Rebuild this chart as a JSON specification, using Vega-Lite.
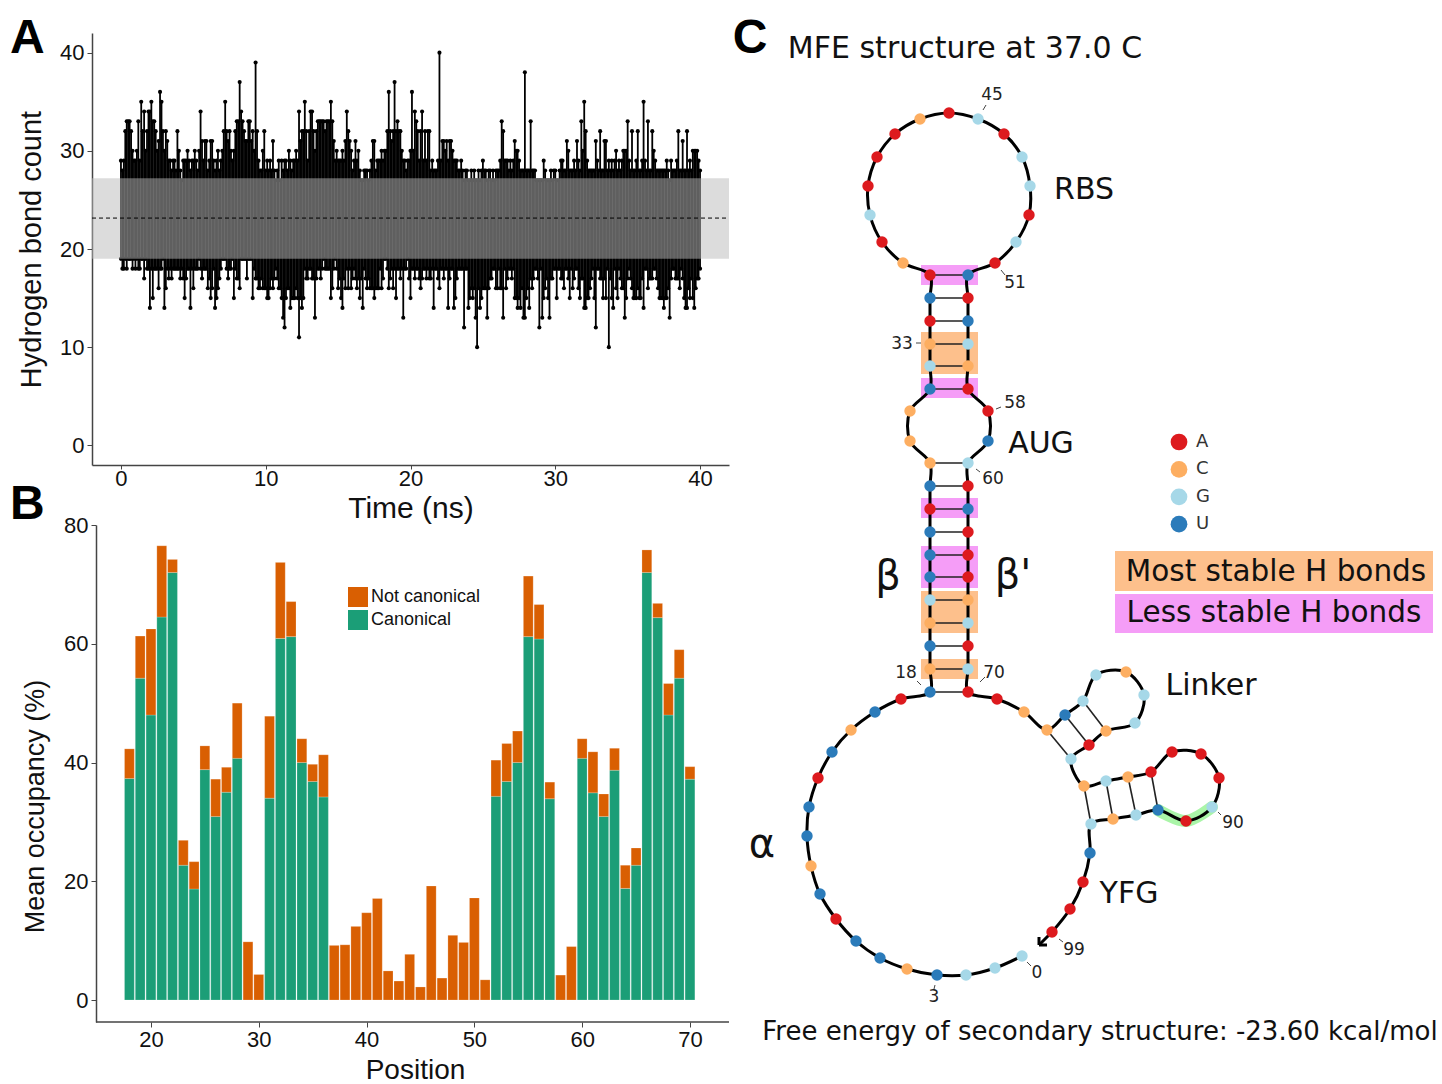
{"$schema":"https://vega.github.io/schema/vega-lite/v6.json","background":"white","padding":{"left":10,"top":14,"right":0,"bottom":0},"spacing":2,"resolve":{"scale":{"color":"independent"},"legend":{"color":"independent"}},"config":{"view":{"stroke":null},"font":"Liberation Sans"},
"datasets":{
"hbonds":[
{"t":0,"hi":29,"lo":19},{"t":0.1,"hi":28,"lo":18},{"t":0.2,"hi":29,"lo":18},{"t":0.3,"hi":32,"lo":19},{"t":0.4,"hi":33,"lo":18},{"t":0.5,"hi":33,"lo":19},{"t":0.6,"hi":33,"lo":19},{"t":0.7,"hi":32,"lo":19},{"t":0.8,"hi":30,"lo":18},{"t":0.9,"hi":29,"lo":19},
{"t":1,"hi":29,"lo":18},{"t":1.1,"hi":30,"lo":19},{"t":1.2,"hi":33,"lo":18},{"t":1.3,"hi":29,"lo":18},{"t":1.4,"hi":35,"lo":19},{"t":1.5,"hi":32,"lo":19},{"t":1.6,"hi":34,"lo":17},{"t":1.7,"hi":30,"lo":19},{"t":1.8,"hi":32,"lo":18},{"t":1.9,"hi":34,"lo":18},
{"t":2,"hi":34,"lo":14},{"t":2.1,"hi":35,"lo":18},{"t":2.2,"hi":33,"lo":15},{"t":2.3,"hi":33,"lo":18},{"t":2.4,"hi":32,"lo":18},{"t":2.5,"hi":30,"lo":18},{"t":2.6,"hi":31,"lo":16},{"t":2.7,"hi":36,"lo":18},{"t":2.8,"hi":35,"lo":18},{"t":2.9,"hi":32,"lo":19},
{"t":3,"hi":30,"lo":14},{"t":3.1,"hi":32,"lo":16},{"t":3.2,"hi":31,"lo":18},{"t":3.3,"hi":29,"lo":17},{"t":3.4,"hi":29,"lo":18},{"t":3.5,"hi":28,"lo":17},{"t":3.6,"hi":29,"lo":18},{"t":3.7,"hi":29,"lo":18},{"t":3.8,"hi":28,"lo":18},{"t":3.9,"hi":32,"lo":18},
{"t":4,"hi":30,"lo":18},{"t":4.1,"hi":28,"lo":17},{"t":4.2,"hi":27,"lo":18},{"t":4.3,"hi":29,"lo":17},{"t":4.4,"hi":29,"lo":15},{"t":4.5,"hi":29,"lo":17},{"t":4.6,"hi":30,"lo":18},{"t":4.7,"hi":29,"lo":18},{"t":4.8,"hi":28,"lo":14},{"t":4.9,"hi":29,"lo":18},
{"t":5,"hi":29,"lo":16},{"t":5.1,"hi":30,"lo":18},{"t":5.2,"hi":29,"lo":18},{"t":5.3,"hi":28,"lo":18},{"t":5.4,"hi":30,"lo":19},{"t":5.5,"hi":34,"lo":18},{"t":5.6,"hi":31,"lo":17},{"t":5.7,"hi":29,"lo":18},{"t":5.8,"hi":31,"lo":18},{"t":5.9,"hi":31,"lo":18},
{"t":6,"hi":28,"lo":16},{"t":6.1,"hi":29,"lo":17},{"t":6.2,"hi":31,"lo":15},{"t":6.3,"hi":31,"lo":16},{"t":6.4,"hi":29,"lo":18},{"t":6.5,"hi":28,"lo":14},{"t":6.6,"hi":29,"lo":15},{"t":6.7,"hi":30,"lo":16},{"t":6.8,"hi":28,"lo":17},{"t":6.9,"hi":29,"lo":18},
{"t":7,"hi":30,"lo":19},{"t":7.1,"hi":32,"lo":19},{"t":7.2,"hi":35,"lo":19},{"t":7.3,"hi":32,"lo":18},{"t":7.4,"hi":31,"lo":17},{"t":7.5,"hi":32,"lo":18},{"t":7.6,"hi":30,"lo":18},{"t":7.7,"hi":29,"lo":19},{"t":7.8,"hi":30,"lo":15},{"t":7.9,"hi":32,"lo":18},
{"t":8,"hi":33,"lo":17},{"t":8.1,"hi":33,"lo":17},{"t":8.2,"hi":37,"lo":16},{"t":8.3,"hi":34,"lo":19},{"t":8.4,"hi":33,"lo":19},{"t":8.5,"hi":32,"lo":19},{"t":8.6,"hi":31,"lo":19},{"t":8.7,"hi":31,"lo":17},{"t":8.8,"hi":33,"lo":19},{"t":8.9,"hi":33,"lo":19},
{"t":9,"hi":31,"lo":19},{"t":9.1,"hi":32,"lo":15},{"t":9.2,"hi":30,"lo":18},{"t":9.3,"hi":39,"lo":17},{"t":9.4,"hi":32,"lo":17},{"t":9.5,"hi":29,"lo":16},{"t":9.6,"hi":28,"lo":16},{"t":9.7,"hi":28,"lo":17},{"t":9.8,"hi":30,"lo":16},{"t":9.9,"hi":32,"lo":16},
{"t":10,"hi":28,"lo":16},{"t":10.1,"hi":29,"lo":15},{"t":10.2,"hi":28,"lo":15},{"t":10.3,"hi":29,"lo":16},{"t":10.4,"hi":28,"lo":17},{"t":10.5,"hi":31,"lo":16},{"t":10.6,"hi":28,"lo":17},{"t":10.7,"hi":27,"lo":18},{"t":10.8,"hi":28,"lo":17},{"t":10.9,"hi":29,"lo":16},
{"t":11,"hi":27,"lo":16},{"t":11.1,"hi":29,"lo":15},{"t":11.2,"hi":28,"lo":13},{"t":11.3,"hi":29,"lo":12},{"t":11.4,"hi":29,"lo":15},{"t":11.5,"hi":28,"lo":16},{"t":11.6,"hi":30,"lo":16},{"t":11.7,"hi":29,"lo":14},{"t":11.8,"hi":28,"lo":15},{"t":11.9,"hi":29,"lo":15},
{"t":12,"hi":29,"lo":15},{"t":12.1,"hi":30,"lo":16},{"t":12.2,"hi":29,"lo":15},{"t":12.3,"hi":34,"lo":11},{"t":12.4,"hi":31,"lo":15},{"t":12.5,"hi":32,"lo":14},{"t":12.6,"hi":32,"lo":15},{"t":12.7,"hi":35,"lo":18},{"t":12.8,"hi":32,"lo":17},{"t":12.9,"hi":29,"lo":17},
{"t":13,"hi":32,"lo":18},{"t":13.1,"hi":34,"lo":18},{"t":13.2,"hi":34,"lo":17},{"t":13.3,"hi":32,"lo":17},{"t":13.4,"hi":30,"lo":13},{"t":13.5,"hi":32,"lo":17},{"t":13.6,"hi":33,"lo":18},{"t":13.7,"hi":33,"lo":18},{"t":13.8,"hi":33,"lo":17},{"t":13.9,"hi":33,"lo":18},
{"t":14,"hi":33,"lo":19},{"t":14.1,"hi":32,"lo":18},{"t":14.2,"hi":33,"lo":18},{"t":14.3,"hi":33,"lo":18},{"t":14.4,"hi":33,"lo":18},{"t":14.5,"hi":35,"lo":15},{"t":14.6,"hi":33,"lo":16},{"t":14.7,"hi":31,"lo":18},{"t":14.8,"hi":29,"lo":19},{"t":14.9,"hi":30,"lo":18},
{"t":15,"hi":29,"lo":16},{"t":15.1,"hi":29,"lo":17},{"t":15.2,"hi":29,"lo":15},{"t":15.3,"hi":30,"lo":14},{"t":15.4,"hi":29,"lo":17},{"t":15.5,"hi":31,"lo":16},{"t":15.6,"hi":34,"lo":18},{"t":15.7,"hi":32,"lo":16},{"t":15.8,"hi":31,"lo":18},{"t":15.9,"hi":30,"lo":16},
{"t":16,"hi":28,"lo":17},{"t":16.1,"hi":29,"lo":18},{"t":16.2,"hi":31,"lo":17},{"t":16.3,"hi":29,"lo":16},{"t":16.4,"hi":30,"lo":17},{"t":16.5,"hi":28,"lo":15},{"t":16.6,"hi":27,"lo":17},{"t":16.7,"hi":27,"lo":14},{"t":16.8,"hi":28,"lo":18},{"t":16.9,"hi":28,"lo":17},
{"t":17,"hi":28,"lo":16},{"t":17.1,"hi":27,"lo":17},{"t":17.2,"hi":28,"lo":16},{"t":17.3,"hi":29,"lo":16},{"t":17.4,"hi":31,"lo":16},{"t":17.5,"hi":31,"lo":15},{"t":17.6,"hi":28,"lo":16},{"t":17.7,"hi":29,"lo":16},{"t":17.8,"hi":29,"lo":16},{"t":17.9,"hi":29,"lo":18},
{"t":18,"hi":30,"lo":16},{"t":18.1,"hi":29,"lo":17},{"t":18.2,"hi":30,"lo":19},{"t":18.3,"hi":30,"lo":19},{"t":18.4,"hi":32,"lo":18},{"t":18.5,"hi":36,"lo":16},{"t":18.6,"hi":32,"lo":17},{"t":18.7,"hi":31,"lo":18},{"t":18.8,"hi":32,"lo":16},{"t":18.9,"hi":37,"lo":18},
{"t":19,"hi":32,"lo":15},{"t":19.1,"hi":33,"lo":18},{"t":19.2,"hi":32,"lo":18},{"t":19.3,"hi":32,"lo":17},{"t":19.4,"hi":30,"lo":18},{"t":19.5,"hi":29,"lo":13},{"t":19.6,"hi":29,"lo":18},{"t":19.7,"hi":28,"lo":18},{"t":19.8,"hi":29,"lo":19},{"t":19.9,"hi":29,"lo":17},
{"t":20,"hi":30,"lo":15},{"t":20.1,"hi":36,"lo":18},{"t":20.2,"hi":30,"lo":18},{"t":20.3,"hi":34,"lo":17},{"t":20.4,"hi":33,"lo":18},{"t":20.5,"hi":32,"lo":18},{"t":20.6,"hi":29,"lo":17},{"t":20.7,"hi":32,"lo":16},{"t":20.8,"hi":34,"lo":17},{"t":20.9,"hi":29,"lo":18},
{"t":21,"hi":32,"lo":18},{"t":21.1,"hi":29,"lo":17},{"t":21.2,"hi":32,"lo":18},{"t":21.3,"hi":32,"lo":17},{"t":21.4,"hi":28,"lo":17},{"t":21.5,"hi":29,"lo":18},{"t":21.6,"hi":28,"lo":14},{"t":21.7,"hi":28,"lo":18},{"t":21.8,"hi":28,"lo":18},{"t":21.9,"hi":29,"lo":17},
{"t":22,"hi":40,"lo":16},{"t":22.1,"hi":29,"lo":18},{"t":22.2,"hi":31,"lo":18},{"t":22.3,"hi":31,"lo":17},{"t":22.4,"hi":30,"lo":18},{"t":22.5,"hi":31,"lo":18},{"t":22.6,"hi":29,"lo":14},{"t":22.7,"hi":31,"lo":17},{"t":22.8,"hi":31,"lo":18},{"t":22.9,"hi":30,"lo":18},
{"t":23,"hi":29,"lo":14},{"t":23.1,"hi":29,"lo":15},{"t":23.2,"hi":29,"lo":17},{"t":23.3,"hi":28,"lo":18},{"t":23.4,"hi":28,"lo":18},{"t":23.5,"hi":29,"lo":18},{"t":23.6,"hi":28,"lo":18},{"t":23.7,"hi":27,"lo":12},{"t":23.8,"hi":28,"lo":18},{"t":23.9,"hi":28,"lo":18},
{"t":24,"hi":27,"lo":14},{"t":24.1,"hi":27,"lo":15},{"t":24.2,"hi":28,"lo":16},{"t":24.3,"hi":27,"lo":15},{"t":24.4,"hi":28,"lo":16},{"t":24.5,"hi":27,"lo":13},{"t":24.6,"hi":27,"lo":10},{"t":24.7,"hi":28,"lo":16},{"t":24.8,"hi":27,"lo":14},{"t":24.9,"hi":28,"lo":15},
{"t":25,"hi":29,"lo":16},{"t":25.1,"hi":28,"lo":16},{"t":25.2,"hi":28,"lo":16},{"t":25.3,"hi":27,"lo":13},{"t":25.4,"hi":28,"lo":16},{"t":25.5,"hi":28,"lo":17},{"t":25.6,"hi":27,"lo":17},{"t":25.7,"hi":28,"lo":18},{"t":25.8,"hi":27,"lo":18},{"t":25.9,"hi":28,"lo":16},
{"t":26,"hi":28,"lo":16},{"t":26.1,"hi":28,"lo":18},{"t":26.2,"hi":29,"lo":16},{"t":26.3,"hi":33,"lo":16},{"t":26.4,"hi":32,"lo":13},{"t":26.5,"hi":29,"lo":18},{"t":26.6,"hi":29,"lo":16},{"t":26.7,"hi":29,"lo":17},{"t":26.8,"hi":28,"lo":18},{"t":26.9,"hi":29,"lo":18},
{"t":27,"hi":28,"lo":17},{"t":27.1,"hi":29,"lo":18},{"t":27.2,"hi":31,"lo":15},{"t":27.3,"hi":30,"lo":15},{"t":27.4,"hi":30,"lo":14},{"t":27.5,"hi":29,"lo":15},{"t":27.6,"hi":28,"lo":14},{"t":27.7,"hi":28,"lo":16},{"t":27.8,"hi":28,"lo":13},{"t":27.9,"hi":38,"lo":13},
{"t":28,"hi":28,"lo":15},{"t":28.1,"hi":28,"lo":16},{"t":28.2,"hi":28,"lo":14},{"t":28.3,"hi":33,"lo":17},{"t":28.4,"hi":28,"lo":16},{"t":28.5,"hi":28,"lo":17},{"t":28.6,"hi":28,"lo":18},{"t":28.7,"hi":27,"lo":18},{"t":28.8,"hi":27,"lo":17},{"t":28.9,"hi":27,"lo":12},
{"t":29,"hi":27,"lo":18},{"t":29.1,"hi":27,"lo":13},{"t":29.2,"hi":29,"lo":15},{"t":29.3,"hi":28,"lo":16},{"t":29.4,"hi":27,"lo":17},{"t":29.5,"hi":27,"lo":15},{"t":29.6,"hi":27,"lo":13},{"t":29.7,"hi":28,"lo":17},{"t":29.8,"hi":27,"lo":17},{"t":29.9,"hi":28,"lo":18},
{"t":30,"hi":28,"lo":18},{"t":30.1,"hi":27,"lo":15},{"t":30.2,"hi":27,"lo":18},{"t":30.3,"hi":28,"lo":18},{"t":30.4,"hi":29,"lo":17},{"t":30.5,"hi":29,"lo":17},{"t":30.6,"hi":28,"lo":16},{"t":30.7,"hi":28,"lo":18},{"t":30.8,"hi":31,"lo":18},{"t":30.9,"hi":30,"lo":17},
{"t":31,"hi":28,"lo":15},{"t":31.1,"hi":28,"lo":18},{"t":31.2,"hi":28,"lo":16},{"t":31.3,"hi":29,"lo":17},{"t":31.4,"hi":28,"lo":18},{"t":31.5,"hi":31,"lo":18},{"t":31.6,"hi":29,"lo":16},{"t":31.7,"hi":28,"lo":15},{"t":31.8,"hi":33,"lo":17},{"t":31.9,"hi":30,"lo":17},
{"t":32,"hi":35,"lo":14},{"t":32.1,"hi":32,"lo":14},{"t":32.2,"hi":29,"lo":15},{"t":32.3,"hi":28,"lo":15},{"t":32.4,"hi":28,"lo":16},{"t":32.5,"hi":28,"lo":17},{"t":32.6,"hi":28,"lo":18},{"t":32.7,"hi":28,"lo":15},{"t":32.8,"hi":31,"lo":12},{"t":32.9,"hi":29,"lo":18},
{"t":33,"hi":28,"lo":18},{"t":33.1,"hi":32,"lo":17},{"t":33.2,"hi":28,"lo":17},{"t":33.3,"hi":28,"lo":15},{"t":33.4,"hi":31,"lo":17},{"t":33.5,"hi":31,"lo":15},{"t":33.6,"hi":28,"lo":18},{"t":33.7,"hi":29,"lo":10},{"t":33.8,"hi":28,"lo":17},{"t":33.9,"hi":29,"lo":15},
{"t":34,"hi":28,"lo":14},{"t":34.1,"hi":29,"lo":18},{"t":34.2,"hi":30,"lo":16},{"t":34.3,"hi":28,"lo":15},{"t":34.4,"hi":29,"lo":18},{"t":34.5,"hi":28,"lo":17},{"t":34.6,"hi":29,"lo":16},{"t":34.7,"hi":30,"lo":16},{"t":34.8,"hi":30,"lo":13},{"t":34.9,"hi":30,"lo":15},
{"t":35,"hi":33,"lo":17},{"t":35.1,"hi":29,"lo":18},{"t":35.2,"hi":28,"lo":17},{"t":35.3,"hi":32,"lo":16},{"t":35.4,"hi":28,"lo":15},{"t":35.5,"hi":28,"lo":15},{"t":35.6,"hi":29,"lo":15},{"t":35.7,"hi":32,"lo":16},{"t":35.8,"hi":28,"lo":15},{"t":35.9,"hi":28,"lo":15},
{"t":36,"hi":29,"lo":17},{"t":36.1,"hi":35,"lo":14},{"t":36.2,"hi":29,"lo":18},{"t":36.3,"hi":28,"lo":18},{"t":36.4,"hi":33,"lo":16},{"t":36.5,"hi":28,"lo":17},{"t":36.6,"hi":28,"lo":17},{"t":36.7,"hi":32,"lo":17},{"t":36.8,"hi":30,"lo":18},{"t":36.9,"hi":29,"lo":18},
{"t":37,"hi":28,"lo":17},{"t":37.1,"hi":28,"lo":16},{"t":37.2,"hi":28,"lo":15},{"t":37.3,"hi":28,"lo":15},{"t":37.4,"hi":28,"lo":15},{"t":37.5,"hi":28,"lo":14},{"t":37.6,"hi":28,"lo":15},{"t":37.7,"hi":29,"lo":15},{"t":37.8,"hi":28,"lo":16},{"t":37.9,"hi":27,"lo":13},
{"t":38,"hi":29,"lo":17},{"t":38.1,"hi":28,"lo":18},{"t":38.2,"hi":28,"lo":18},{"t":38.3,"hi":28,"lo":17},{"t":38.4,"hi":29,"lo":17},{"t":38.5,"hi":32,"lo":17},{"t":38.6,"hi":28,"lo":16},{"t":38.7,"hi":28,"lo":18},{"t":38.8,"hi":31,"lo":17},{"t":38.9,"hi":28,"lo":15},
{"t":39,"hi":28,"lo":14},{"t":39.1,"hi":32,"lo":14},{"t":39.2,"hi":28,"lo":16},{"t":39.3,"hi":29,"lo":15},{"t":39.4,"hi":28,"lo":17},{"t":39.5,"hi":30,"lo":15},{"t":39.6,"hi":30,"lo":14},{"t":39.7,"hi":30,"lo":16},{"t":39.8,"hi":30,"lo":17},{"t":39.9,"hi":29,"lo":17},{"t":40,"hi":28,"lo":18}
],
"occupancy":[
{"position":18,"type":"Canonical","value":37.3},{"position":18,"type":"Not canonical","value":5},
{"position":19,"type":"Canonical","value":54.2},{"position":19,"type":"Not canonical","value":7.1},
{"position":20,"type":"Canonical","value":48},{"position":20,"type":"Not canonical","value":14.5},
{"position":21,"type":"Canonical","value":64.5},{"position":21,"type":"Not canonical","value":12},
{"position":22,"type":"Canonical","value":72},{"position":22,"type":"Not canonical","value":2.2},
{"position":23,"type":"Canonical","value":22.7},{"position":23,"type":"Not canonical","value":4.2},
{"position":24,"type":"Canonical","value":18.7},{"position":24,"type":"Not canonical","value":4.6},
{"position":25,"type":"Canonical","value":38.8},{"position":25,"type":"Not canonical","value":4},
{"position":26,"type":"Canonical","value":30.9},{"position":26,"type":"Not canonical","value":6.3},
{"position":27,"type":"Canonical","value":35},{"position":27,"type":"Not canonical","value":4.2},
{"position":28,"type":"Canonical","value":40.7},{"position":28,"type":"Not canonical","value":9.3},
{"position":29,"type":"Not canonical","value":9.8},{"position":30,"type":"Not canonical","value":4.3},
{"position":31,"type":"Canonical","value":34},{"position":31,"type":"Not canonical","value":13.8},
{"position":32,"type":"Canonical","value":60.9},{"position":32,"type":"Not canonical","value":12.8},
{"position":33,"type":"Canonical","value":61.2},{"position":33,"type":"Not canonical","value":5.9},
{"position":34,"type":"Canonical","value":40},{"position":34,"type":"Not canonical","value":4},
{"position":35,"type":"Canonical","value":36.8},{"position":35,"type":"Not canonical","value":2.9},
{"position":36,"type":"Canonical","value":34.2},{"position":36,"type":"Not canonical","value":7.1},
{"position":37,"type":"Not canonical","value":9.2},{"position":38,"type":"Not canonical","value":9.3},{"position":39,"type":"Not canonical","value":12.4},{"position":40,"type":"Not canonical","value":14.7},{"position":41,"type":"Not canonical","value":17.1},{"position":42,"type":"Not canonical","value":4.9},{"position":43,"type":"Not canonical","value":3.2},{"position":44,"type":"Not canonical","value":7.7},{"position":45,"type":"Not canonical","value":2.2},{"position":46,"type":"Not canonical","value":19.2},{"position":47,"type":"Not canonical","value":3.7},{"position":48,"type":"Not canonical","value":10.9},{"position":49,"type":"Not canonical","value":9.7},{"position":50,"type":"Not canonical","value":17.2},{"position":51,"type":"Not canonical","value":3.4},
{"position":52,"type":"Canonical","value":34.3},{"position":52,"type":"Not canonical","value":6.1},
{"position":53,"type":"Canonical","value":36.8},{"position":53,"type":"Not canonical","value":6.4},
{"position":54,"type":"Canonical","value":40},{"position":54,"type":"Not canonical","value":5.3},
{"position":55,"type":"Canonical","value":61.2},{"position":55,"type":"Not canonical","value":10.2},
{"position":56,"type":"Canonical","value":60.8},{"position":56,"type":"Not canonical","value":5.8},
{"position":57,"type":"Canonical","value":33.9},{"position":57,"type":"Not canonical","value":2.8},
{"position":58,"type":"Not canonical","value":4.2},{"position":59,"type":"Not canonical","value":9},
{"position":60,"type":"Canonical","value":40.7},{"position":60,"type":"Not canonical","value":3.3},
{"position":61,"type":"Canonical","value":34.9},{"position":61,"type":"Not canonical","value":6.9},
{"position":62,"type":"Canonical","value":30.9},{"position":62,"type":"Not canonical","value":3.8},
{"position":63,"type":"Canonical","value":38.7},{"position":63,"type":"Not canonical","value":3.7},
{"position":64,"type":"Canonical","value":18.8},{"position":64,"type":"Not canonical","value":3.9},
{"position":65,"type":"Canonical","value":22.7},{"position":65,"type":"Not canonical","value":2.9},
{"position":66,"type":"Canonical","value":72},{"position":66,"type":"Not canonical","value":3.8},
{"position":67,"type":"Canonical","value":64.4},{"position":67,"type":"Not canonical","value":2.4},
{"position":68,"type":"Canonical","value":48},{"position":68,"type":"Not canonical","value":5.3},
{"position":69,"type":"Canonical","value":54.2},{"position":69,"type":"Not canonical","value":4.8},
{"position":70,"type":"Canonical","value":37.2},{"position":70,"type":"Not canonical","value":2.1}
],
"nt":[
{"n":0,"x":1022,"y":954,"base":"G"},{"n":1,"x":995,"y":966,"base":"G"},{"n":2,"x":966,"y":973,"base":"G"},{"n":3,"x":937,"y":973,"base":"U"},{"n":4,"x":907,"y":967,"base":"C"},{"n":5,"x":880,"y":956,"base":"U"},{"n":6,"x":856,"y":939,"base":"U"},{"n":7,"x":836,"y":917,"base":"A"},{"n":8,"x":820,"y":892,"base":"U"},{"n":9,"x":811,"y":864,"base":"C"},
{"n":10,"x":807,"y":834,"base":"U"},{"n":11,"x":809,"y":805,"base":"U"},{"n":12,"x":818,"y":776,"base":"A"},{"n":13,"x":832,"y":750,"base":"U"},{"n":14,"x":851,"y":728,"base":"C"},{"n":15,"x":875,"y":710,"base":"U"},{"n":16,"x":901,"y":697,"base":"A"},{"n":17,"x":930,"y":690,"base":"U"},{"n":18,"x":930,"y":667,"base":"C"},{"n":19,"x":930,"y":644,"base":"U"},
{"n":20,"x":930,"y":621,"base":"C"},{"n":21,"x":930,"y":598,"base":"G"},{"n":22,"x":930,"y":575,"base":"U"},{"n":23,"x":930,"y":553,"base":"U"},{"n":24,"x":930,"y":530,"base":"U"},{"n":25,"x":930,"y":507,"base":"A"},{"n":26,"x":930,"y":484,"base":"U"},{"n":27,"x":930,"y":461,"base":"C"},{"n":28,"x":910,"y":439,"base":"C"},{"n":29,"x":910,"y":409,"base":"C"},
{"n":30,"x":930,"y":387,"base":"U"},{"n":31,"x":930,"y":364,"base":"G"},{"n":32,"x":930,"y":342,"base":"C"},{"n":33,"x":930,"y":319,"base":"A"},{"n":34,"x":930,"y":296,"base":"U"},{"n":35,"x":930,"y":273,"base":"A"},{"n":36,"x":903,"y":261,"base":"C"},{"n":37,"x":882,"y":240,"base":"A"},{"n":38,"x":870,"y":213,"base":"G"},{"n":39,"x":868,"y":184,"base":"A"},
{"n":40,"x":877,"y":155,"base":"A"},{"n":41,"x":895,"y":132,"base":"A"},{"n":42,"x":920,"y":117,"base":"C"},{"n":43,"x":949,"y":111,"base":"A"},{"n":44,"x":978,"y":117,"base":"G"},{"n":45,"x":1004,"y":132,"base":"A"},{"n":46,"x":1022,"y":155,"base":"G"},{"n":47,"x":1030,"y":184,"base":"G"},{"n":48,"x":1029,"y":213,"base":"A"},{"n":49,"x":1016,"y":240,"base":"G"},
{"n":50,"x":995,"y":261,"base":"A"},{"n":51,"x":968,"y":273,"base":"U"},{"n":52,"x":968,"y":296,"base":"A"},{"n":53,"x":968,"y":319,"base":"U"},{"n":54,"x":968,"y":342,"base":"G"},{"n":55,"x":968,"y":364,"base":"C"},{"n":56,"x":968,"y":387,"base":"A"},{"n":57,"x":988,"y":409,"base":"A"},{"n":58,"x":988,"y":439,"base":"U"},{"n":59,"x":968,"y":461,"base":"G"},
{"n":60,"x":968,"y":484,"base":"A"},{"n":61,"x":968,"y":507,"base":"U"},{"n":62,"x":968,"y":530,"base":"A"},{"n":63,"x":968,"y":553,"base":"A"},{"n":64,"x":968,"y":575,"base":"A"},{"n":65,"x":968,"y":598,"base":"C"},{"n":66,"x":968,"y":621,"base":"G"},{"n":67,"x":968,"y":644,"base":"A"},{"n":68,"x":968,"y":667,"base":"G"},{"n":69,"x":968,"y":690,"base":"A"},
{"n":70,"x":997,"y":697,"base":"A"},{"n":71,"x":1024,"y":710,"base":"C"},{"n":72,"x":1047,"y":728,"base":"C"},{"n":73,"x":1065,"y":713,"base":"U"},{"n":74,"x":1083,"y":699,"base":"G"},{"n":75,"x":1096,"y":673,"base":"G"},{"n":76,"x":1126,"y":670,"base":"C"},{"n":77,"x":1144,"y":693,"base":"G"},{"n":78,"x":1135,"y":721,"base":"G"},{"n":79,"x":1106,"y":729,"base":"C"},
{"n":80,"x":1089,"y":743,"base":"A"},{"n":81,"x":1071,"y":757,"base":"G"},{"n":82,"x":1084,"y":784,"base":"C"},{"n":83,"x":1106,"y":779,"base":"G"},{"n":84,"x":1128,"y":775,"base":"C"},{"n":85,"x":1151,"y":770,"base":"A"},{"n":86,"x":1172,"y":750,"base":"A"},{"n":87,"x":1201,"y":752,"base":"A"},{"n":88,"x":1219,"y":776,"base":"A"},{"n":89,"x":1212,"y":805,"base":"G"},
{"n":90,"x":1186,"y":819,"base":"A"},{"n":91,"x":1158,"y":808,"base":"U"},{"n":92,"x":1136,"y":813,"base":"G"},{"n":93,"x":1113,"y":817,"base":"C"},{"n":94,"x":1091,"y":822,"base":"G"},{"n":95,"x":1090,"y":851,"base":"U"},{"n":96,"x":1083,"y":880,"base":"A"},{"n":97,"x":1070,"y":907,"base":"A"},{"n":98,"x":1052,"y":930,"base":"A"}
],
"pairs":[
{"x":930,"y":690,"x2":968,"y2":690},{"x":930,"y":667,"x2":968,"y2":667},{"x":930,"y":644,"x2":968,"y2":644},{"x":930,"y":621,"x2":968,"y2":621},{"x":930,"y":598,"x2":968,"y2":598},{"x":930,"y":575,"x2":968,"y2":575},{"x":930,"y":553,"x2":968,"y2":553},{"x":930,"y":530,"x2":968,"y2":530},{"x":930,"y":507,"x2":968,"y2":507},{"x":930,"y":484,"x2":968,"y2":484},{"x":930,"y":461,"x2":968,"y2":461},
{"x":930,"y":387,"x2":968,"y2":387},{"x":930,"y":364,"x2":968,"y2":364},{"x":930,"y":342,"x2":968,"y2":342},{"x":930,"y":319,"x2":968,"y2":319},{"x":930,"y":296,"x2":968,"y2":296},{"x":930,"y":273,"x2":968,"y2":273},
{"x":1047,"y":728,"x2":1071,"y2":757},{"x":1065,"y":713,"x2":1089,"y2":743},{"x":1083,"y":699,"x2":1106,"y2":729},
{"x":1084,"y":784,"x2":1091,"y2":822},{"x":1106,"y":779,"x2":1113,"y2":817},{"x":1128,"y":775,"x2":1136,"y2":813},{"x":1151,"y":770,"x2":1158,"y2":808}
],
"leaders":[
{"x":983,"y":108,"x2":986,"y2":103},{"x":1001,"y":268,"x2":1005,"y2":273},{"x":916,"y":341,"x2":921,"y2":341},{"x":996,"y":407,"x2":1001,"y2":405},{"x":976,"y":467,"x2":980,"y2":470},{"x":917,"y":679,"x2":921,"y2":683},{"x":980,"y":680,"x2":985,"y2":675},{"x":1218,"y":810,"x2":1221,"y2":813},{"x":1059,"y":937,"x2":1063,"y2":940},{"x":1027,"y":960,"x2":1031,"y2":964},{"x":935,"y":983,"x2":934,"y2":987}
],
"arrow":[
{"x":1050,"y":932,"x2":1039,"y2":943},{"x":1047,"y":943,"x2":1039,"y2":943},{"x":1039,"y":935,"x2":1039,"y2":943}
]
},
"hconcat":[
{"bounds":"flush","spacing":60,"vconcat":[
{"width":637,"height":432,"layer":[
{"data":{"name":"hbonds"},"mark":{"type":"rule","color":"#000","strokeWidth":1.8},
"encoding":{"x":{"field":"t","type":"quantitative","scale":{"domain":[-2,42],"nice":false,"zero":false},"axis":{"title":"Time (ns)","values":[0,10,20,30,40],"grid":false,"labelFontSize":22,"titleFontSize":30,"titleFontWeight":"normal","labelColor":"#111","titleColor":"#111","domainColor":"#444","tickColor":"#444","domainWidth":1.5,"tickSize":4,"labelPadding":-1,"titlePadding":4,"labelFlush":false}},
"y":{"field":"lo","type":"quantitative","scale":{"domain":[-2,42],"nice":false,"zero":false},"axis":{"title":"Hydrogen bond count","values":[0,10,20,30,40],"grid":false,"labelFontSize":22,"titleFontSize":29,"titleFontWeight":"normal","labelColor":"#111","titleColor":"#111","domainColor":"#444","tickColor":"#444","domainWidth":1.5,"tickSize":5,"labelPadding":3,"titlePadding":13}},"y2":{"field":"hi"}}},
{"data":{"name":"hbonds"},"mark":{"type":"point","filled":true,"color":"#000","size":17,"opacity":1},"encoding":{"x":{"field":"t","type":"quantitative","title":"Time (ns)"},"y":{"field":"hi","type":"quantitative","title":"Hydrogen bond count"}}},
{"data":{"name":"hbonds"},"mark":{"type":"point","filled":true,"color":"#000","size":17,"opacity":1},"encoding":{"x":{"field":"t","type":"quantitative","title":"Time (ns)"},"y":{"field":"lo","type":"quantitative","title":"Hydrogen bond count"}}},
{"data":{"values":[{"x":-2,"x2":42,"y":19,"y2":27.2}]},"mark":{"type":"rect","color":"#bababa","opacity":0.51},"encoding":{"x":{"field":"x","type":"quantitative","title":"Time (ns)"},"x2":{"field":"x2"},"y":{"field":"y","type":"quantitative","title":"Hydrogen bond count"},"y2":{"field":"y2"}}},
{"data":{"values":[{"x":-2,"x2":42,"y":23.15}]},"mark":{"type":"rule","color":"#000","strokeWidth":1,"strokeDash":[4,3]},"encoding":{"x":{"field":"x","type":"quantitative","title":"Time (ns)"},"x2":{"field":"x2"},"y":{"field":"y","type":"quantitative","title":"Hydrogen bond count"}}},
{"data":{"values":[{"x":-6.46,"y":41.4,"label":"A"},{"x":-6.46,"y":-6.1,"label":"B"}]},"mark":{"type":"text","font":"Liberation Sans","fontWeight":"bold","fontSize":48,"color":"#000"},"encoding":{"x":{"field":"x","type":"quantitative","title":"Time (ns)"},"y":{"field":"y","type":"quantitative","title":"Hydrogen bond count"},"text":{"field":"label"}}}
]},
{"width":637,"height":497,"layer":[
{"data":{"name":"occupancy"},"mark":{"type":"bar","size":9.8,"stroke":"#fff","strokeOpacity":0.4,"strokeWidth":0.5},
"encoding":{"x":{"field":"position","type":"quantitative","scale":{"domain":[14.53,73.62],"nice":false,"zero":false,"padding":0},"axis":{"title":"Position","values":[20,30,40,50,60,70],"grid":false,"domain":false,"labelFontSize":22,"titleFontSize":28,"titleFontWeight":"normal","labelColor":"#111","titleColor":"#111","tickColor":"#444","tickSize":5,"labelPadding":2,"titlePadding":6,"titleX":323}},
"y":{"field":"value","type":"quantitative","stack":"zero","scale":{"domain":[-3.7,80],"nice":false,"zero":false},"axis":{"title":"Mean occupancy (%)","values":[0,20,40,60,80],"offset":-4,"grid":false,"labelFontSize":22,"titleFontSize":27,"titleFontWeight":"normal","labelColor":"#111","titleColor":"#111","domainColor":"#444","tickColor":"#444","domainWidth":1.5,"tickSize":5,"labelPadding":3,"titlePadding":14,"titleY":281}},
"color":{"field":"type","type":"nominal","scale":{"domain":["Not canonical","Canonical"],"range":["#d95f02","#1b9e77"]},"legend":{"title":null,"orient":"none","legendX":256,"legendY":554,"symbolType":"square","symbolSize":400,"symbolStrokeWidth":0,"labelFontSize":18,"labelColor":"#111","rowPadding":3,"labelOffset":3}},
"order":{"field":"type","sort":"ascending"}}},
{"data":{"values":[{"x":14.9,"x2":73.62,"y":-3.7}]},"mark":{"type":"rule","color":"#444","strokeWidth":1.5},"encoding":{"x":{"field":"x","type":"quantitative","title":"Position"},"x2":{"field":"x2"},"y":{"field":"y","type":"quantitative","title":"Mean occupancy (%)"}}}
]}
]},
{"width":707,"height":1051,"encoding":{"x":{"field":"x","type":"quantitative","scale":{"domain":[735,1442],"nice":false,"zero":false},"axis":null},"y":{"field":"y","type":"quantitative","scale":{"domain":[1082,31],"nice":false,"zero":false},"axis":null}},
"layer":[
{"data":{"values":[{"x":921,"x2":978,"y":263,"y2":283},{"x":921,"x2":978,"y":376,"y2":396},{"x":921,"x2":978,"y":496,"y2":516},{"x":921,"x2":978,"y":544,"y2":586},{"x":1115,"x2":1433,"y":592,"y2":631}]},"mark":{"type":"rect","color":"#f59df7"},"encoding":{"x2":{"field":"x2"},"y2":{"field":"y2"}}},
{"data":{"values":[{"x":921,"x2":978,"y":330,"y2":372},{"x":921,"x2":978,"y":589,"y2":631},{"x":921,"x2":978,"y":657,"y2":677},{"x":1115,"x2":1433,"y":549,"y2":589}]},"mark":{"type":"rect","color":"#fdc08c"},"encoding":{"x2":{"field":"x2"},"y2":{"field":"y2"}}},
{"data":{"name":"nt"},"transform":[{"filter":{"field":"n","range":[89,91]}}],"mark":{"type":"line","color":"#aaf5a8","strokeWidth":12,"strokeCap":"round","interpolate":"catmull-rom"},"encoding":{"order":{"field":"n","type":"quantitative"}}},
{"data":{"name":"pairs"},"mark":{"type":"rule","color":"#222","strokeWidth":1.6},"encoding":{"x2":{"field":"x2"},"y2":{"field":"y2"}}},
{"data":{"name":"leaders"},"mark":{"type":"rule","color":"#444","strokeWidth":1},"encoding":{"x2":{"field":"x2"},"y2":{"field":"y2"}}},
{"data":{"name":"arrow"},"mark":{"type":"rule","color":"#000","strokeWidth":3},"encoding":{"x2":{"field":"x2"},"y2":{"field":"y2"}}},
{"data":{"name":"nt"},"mark":{"type":"line","color":"#000","strokeWidth":3,"interpolate":"catmull-rom"},"encoding":{"order":{"field":"n","type":"quantitative"}}},
{"data":{"name":"nt"},"mark":{"type":"point","filled":true,"size":130,"opacity":1},"encoding":{"color":{"field":"base","type":"nominal","scale":{"domain":["A","C","G","U"],"range":["#dd1a1e","#fdae61","#a6d8e8","#2b7bba"]},"legend":{"title":null,"orient":"none","legendX":435,"legendY":400,"symbolType":"circle","symbolSize":280,"symbolStrokeWidth":0,"labelFontSize":18,"labelFont":"DejaVu Sans","labelColor":"#333","rowPadding":9.4,"labelOffset":8}}}},
{"data":{"values":[{"x":992,"y":93,"label":"45"},{"x":1015,"y":281,"label":"51"},{"x":902,"y":342,"label":"33"},{"x":1015,"y":401,"label":"58"},{"x":993,"y":477,"label":"60"},{"x":906,"y":671,"label":"18"},{"x":994,"y":671,"label":"70"},{"x":1233,"y":821,"label":"90"},{"x":1074,"y":948,"label":"99"},{"x":1037,"y":971,"label":"0"},{"x":934,"y":995,"label":"3"}]},"mark":{"type":"text","font":"DejaVu Sans","fontSize":17,"color":"#222"},"encoding":{"text":{"field":"label"}}},
{"data":{"values":[{"x":1084,"y":188,"label":"RBS"},{"x":1041,"y":442,"label":"AUG"},{"x":1211,"y":684,"label":"Linker"},{"x":1129,"y":892,"label":"YFG"}]},"mark":{"type":"text","font":"DejaVu Sans","fontSize":30,"color":"#111"},"encoding":{"text":{"field":"label"}}},
{"data":{"values":[{"x":888,"y":575,"label":"β"},{"x":1013,"y":574,"label":"β'"},{"x":762,"y":843,"label":"α"}]},"mark":{"type":"text","font":"DejaVu Sans","fontSize":40,"color":"#111"},"encoding":{"text":{"field":"label"}}},
{"data":{"values":[{"x":965,"y":47,"label":"MFE structure at 37.0 C"}]},"mark":{"type":"text","font":"DejaVu Sans","fontSize":30,"color":"#111"},"encoding":{"text":{"field":"label"}}},
{"data":{"values":[{"x":1100,"y":1030,"label":"Free energy of secondary structure: -23.60 kcal/mol"}]},"mark":{"type":"text","font":"DejaVu Sans","fontSize":26,"color":"#111"},"encoding":{"text":{"field":"label"}}},
{"data":{"values":[{"x":1276,"y":570,"label":"Most stable H bonds"},{"x":1274,"y":611,"label":"Less stable H bonds"}]},"mark":{"type":"text","font":"DejaVu Sans","fontSize":29.5,"color":"#111"},"encoding":{"text":{"field":"label"}}},
{"data":{"values":[{"x":750,"y":37,"label":"C"}]},"mark":{"type":"text","font":"Liberation Sans","fontWeight":"bold","fontSize":48,"color":"#000"},"encoding":{"text":{"field":"label"}}}
]}
]}
